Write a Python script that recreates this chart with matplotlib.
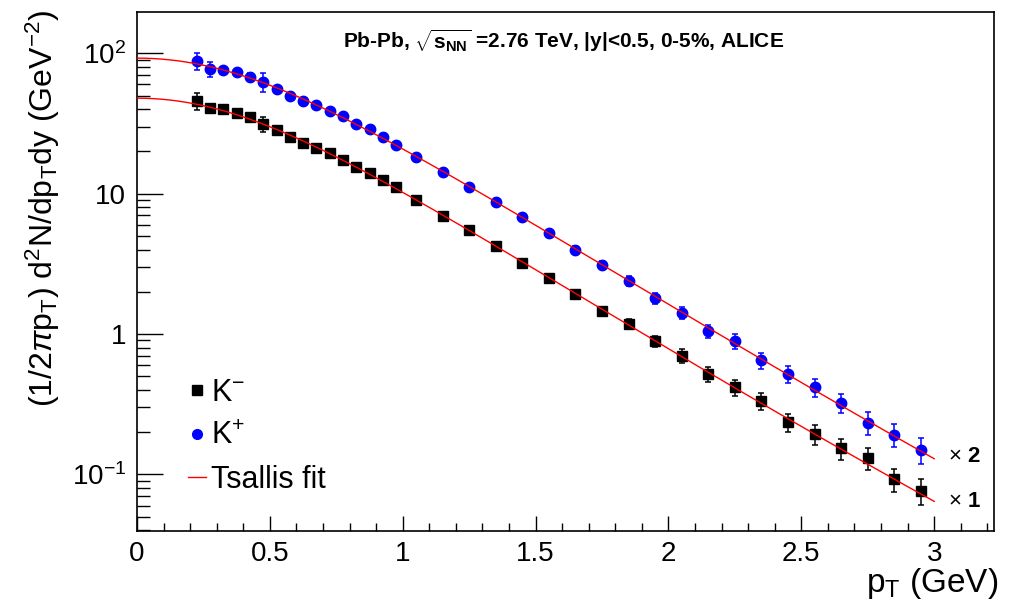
import numpy as np
import matplotlib
matplotlib.use('Agg')
import matplotlib.pyplot as plt
from matplotlib.ticker import MultipleLocator, FixedLocator, FormatStrFormatter, LogLocator, NullFormatter
from matplotlib.lines import Line2D

plt.rcParams['font.family'] = ['Liberation Sans', 'DejaVu Sans']
plt.rcParams['mathtext.fontset'] = 'custom'
plt.rcParams['mathtext.rm'] = 'Liberation Sans'
plt.rcParams['mathtext.it'] = 'Liberation Sans:italic'
plt.rcParams['mathtext.bf'] = 'Liberation Sans:bold'

# pT bin centres (GeV)
pt_low = [0.225, 0.275, 0.325, 0.375, 0.425, 0.475, 0.525, 0.575,
          0.625, 0.675, 0.725, 0.775, 0.825, 0.875, 0.925, 0.975]
pt_high = [1.05, 1.15, 1.25, 1.35, 1.45, 1.55, 1.65, 1.75, 1.85, 1.95,
           2.05, 2.15, 2.25, 2.35, 2.45, 2.55, 2.65, 2.75, 2.85, 2.95]
pt = pt_low + pt_high

# K- yields (x1)
kminus = [45.9, 40.6, 39.9, 37.4, 35.3, 31.3, 28.4, 25.2, 22.8, 21.0, 19.4, 17.4,
          15.6, 14.1, 12.5, 11.2,
          9.05, 6.92, 5.5, 4.23, 3.22, 2.49, 1.92, 1.46, 1.18, 0.89,
          0.70, 0.518, 0.416, 0.334, 0.236, 0.194, 0.153, 0.130, 0.092, 0.076]
kminus_relerr = [0.14, 0.06, 0.05, 0.05, 0.06, 0.12, 0.04, 0.04, 0.04, 0.04, 0.04, 0.04,
                 0.04, 0.04, 0.04, 0.04,
                 0.04, 0.04, 0.05, 0.05, 0.05, 0.05, 0.06, 0.07, 0.08, 0.09,
                 0.11, 0.12, 0.13, 0.14, 0.15, 0.16, 0.17, 0.18, 0.19, 0.21]

# K+ yields (unscaled, drawn x2)
kplus = [44.3, 38.5, 38.0, 37.0, 34.0, 31.4, 28.0, 24.9, 23.0, 21.3, 19.5, 17.9,
         15.7, 14.4, 12.6, 11.1,
         9.1, 7.15, 5.6, 4.38, 3.39, 2.61, 2.0, 1.55, 1.19, 0.90,
         0.71, 0.525, 0.445, 0.325, 0.259, 0.208, 0.162, 0.117, 0.096, 0.075]
kplus_relerr = [0.14, 0.12, 0.05, 0.05, 0.06, 0.15, 0.04, 0.04, 0.04, 0.04, 0.04, 0.04,
                0.04, 0.04, 0.04, 0.04,
                0.04, 0.04, 0.05, 0.05, 0.05, 0.05, 0.06, 0.07, 0.08, 0.09,
                0.10, 0.11, 0.12, 0.13, 0.14, 0.15, 0.16, 0.18, 0.19, 0.21]
kplus_scale = 2

ytick_vals = [0.1, 1, 10, 100]
ytick_labels = [r'$10^{-1}$', '1', '10', r'$10^{2}$']

m_kaon = 0.4937


def tsallis(p, a, t, n):
    mt = np.sqrt(p**2 + m_kaon**2)
    return a * mt * (1 + (mt - m_kaon) / (n * t))**(-n)


def fit_tsallis(p, y, rel):
    # crude grid search in log space, normalisation solved analytically
    p = np.asarray(p); ly = np.log(y); w = 1 / np.asarray(rel)**2
    best = None
    for t in np.arange(0.15, 0.5, 0.002):
        for n in np.arange(4, 80, 0.5):
            shape = np.log(tsallis(p, 1.0, t, n))
            la = np.sum(w * (ly - shape)) / np.sum(w)
            chi = np.sum(w * (ly - shape - la)**2)
            if best is None or chi < best[0]:
                best = (chi, np.exp(la), t, n)
    return best[1:]


pt = np.array(pt)
km = np.array(kminus)
kp = np.array(kplus) * kplus_scale

par_m = fit_tsallis(pt, kminus, kminus_relerr)
par_p = fit_tsallis(pt, kplus, kplus_relerr)
pfine = np.linspace(0, 3.0, 300)

fig = plt.figure(figsize=(10.11, 6.09), dpi=100)
ax = fig.add_axes([0.1355, 0.1281, 0.8477, 0.8522])
ax.set_yscale('log')

ax.plot(pfine, tsallis(pfine, *par_m), color='red', lw=1.0, zorder=3)
ax.plot(pfine, kplus_scale * tsallis(pfine, *par_p), color='red', lw=1.0, zorder=3)

ax.errorbar(pt, km, yerr=km * np.array(kminus_relerr), fmt='s', color='black',
            ms=7.5, elinewidth=1.1, capsize=2.5, capthick=1.1, zorder=2)
ax.errorbar(pt, kp, yerr=kp * np.array(kplus_relerr), fmt='o', color='blue',
            ms=7.5, elinewidth=1.1, capsize=2.5, capthick=1.1, zorder=2)

ax.set_xlim(0, 3.225)
ax.set_ylim(0.0395, 197)

ax.xaxis.set_major_locator(MultipleLocator(0.5))
ax.xaxis.set_minor_locator(MultipleLocator(0.1))
ax.xaxis.set_major_formatter(FormatStrFormatter('%g'))
ax.yaxis.set_major_locator(FixedLocator(ytick_vals))
ax.set_yticklabels(ytick_labels)
ax.yaxis.set_minor_locator(LogLocator(base=10, subs=np.arange(2, 10)))
ax.yaxis.set_minor_formatter(NullFormatter())

ax.tick_params(axis='both', which='both', direction='in', top=False, right=False,
               labelsize=20, width=1.0)
ax.tick_params(axis='x', which='major', length=11, pad=7)
ax.tick_params(axis='x', which='minor', length=6)
ax.tick_params(axis='y', which='major', length=19, pad=8)
ax.tick_params(axis='y', which='minor', length=9.5)
for s in ax.spines.values():
    s.set_linewidth(1.2)

ax.set_xlabel(r'p$_{\rm T}$ (GeV)', fontsize=24, loc='right')
ax.xaxis.set_label_coords(1.005, -0.068)
fig.text(0.042, 0.985, r'(1/2$\pi$p$_{\rm T}$) d$^{2}$N/dp$_{\rm T}$dy (GeV$^{-2}$)',
         rotation=90, fontsize=23, ha='center', va='top')

ax.text(0.240, 0.945, r'Pb-Pb, $\sqrt{\mathbf{s}_{\mathbf{NN}}}$ =2.76 TeV, |y|<0.5, 0-5%, ALICE',
        transform=ax.transAxes, fontsize=15, fontweight='bold', va='center', ha='left')

x_end = 3.0
ax.text(3.05, kplus_scale * tsallis(x_end, *par_p) * 1.04, r'$\times$ 2', fontsize=16,
        fontweight='bold', va='center', ha='left')
ax.text(3.05, tsallis(x_end, *par_m), r'$\times$ 1', fontsize=16,
        fontweight='bold', va='center', ha='left')

handles = [Line2D([], [], marker='s', color='black', ls='none', ms=6.5),
           Line2D([], [], marker='o', color='blue', ls='none', ms=7),
           Line2D([], [], color='red', lw=1.0)]
labels = [r'K$^{-}$', r'K$^{+}$', 'Tsallis fit']
ax.legend(handles, labels, loc='upper left', bbox_to_anchor=(0.045, 0.319),
          frameon=False, fontsize=22, handlelength=0.6, handletextpad=0.16,
          labelspacing=0.45, borderaxespad=0)

fig.savefig('out.png', dpi=100)
